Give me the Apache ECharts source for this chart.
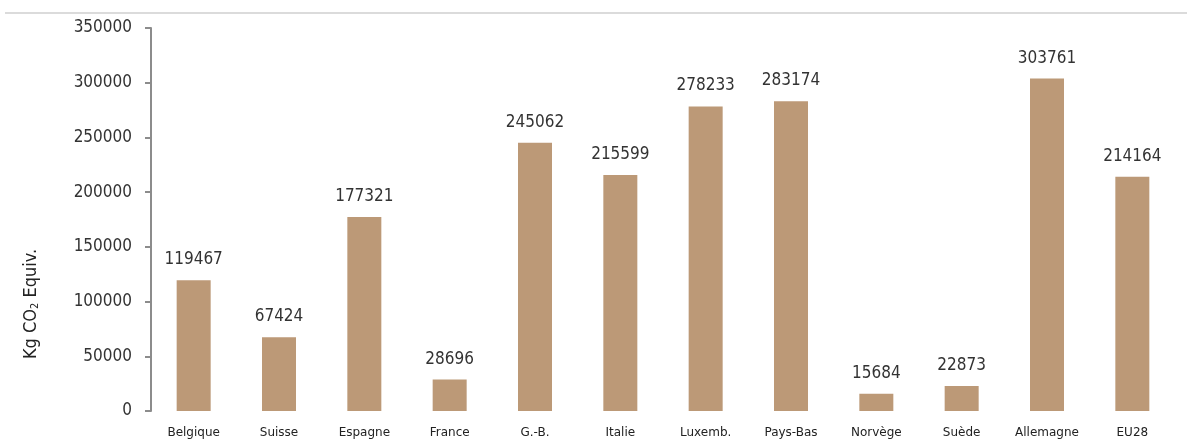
<!DOCTYPE html>
<html><head><meta charset="utf-8">
<script src="https://cdn.jsdelivr.net/npm/echarts@6/dist/echarts.min.js"></script>
<style>html,body{margin:0;padding:0;background:#fff}#c{width:1187px;height:441px}</style>
</head><body><div id="c"></div>
<script>
const categories = ['Belgique','Suisse','Espagne','France','G.-B.','Italie','Luxemb.','Pays-Bas','Norvège','Suède','Allemagne','EU28'];
const values = [119467,67424,177321,28696,245062,215599,278233,283174,15684,22873,303761,214164];
const yTicks = [0,50000,100000,150000,200000,250000,300000,350000];
const font = '"DejaVu Sans Condensed","DejaVu Sans",sans-serif';
const font2 = '"DejaVu Sans",sans-serif';
const chart = echarts.init(document.getElementById('c'));
chart.setOption({
  animation:false,
  grid:{left:151,right:12,top:28,bottom:30,containLabel:false},
  xAxis:{type:'category',data:categories,
    axisLine:{show:false},axisTick:{show:false},
    axisLabel:{color:'#222',fontFamily:font2,fontSize:12,margin:16}},
  yAxis:{type:'value',min:yTicks[0],max:yTicks[yTicks.length-1],interval:50000,
    axisLine:{show:true,lineStyle:{color:'#8c8c8c',width:2}},
    axisTick:{show:true,length:6,lineStyle:{color:'#8c8c8c',width:2}},
    splitLine:{show:false},
    axisLabel:{color:'#333',fontFamily:font,fontSize:17,margin:19,formatter:v=>String(v)}},
  series:[{type:'bar',data:values,barWidth:34,
    itemStyle:{color:'#BC9977'},
    label:{show:true,position:'top',distance:12,color:'#333',fontFamily:font,fontSize:17}}],
  graphic:[
    {type:'line',shape:{x1:5,y1:13,x2:1187,y2:13},style:{stroke:'#cfcfcf',lineWidth:1.5}},
    {type:'text',x:31,y:304,rotation:Math.PI/2,
      style:{text:'{a|Kg CO}{s|2}{a| Equiv.}',align:'center',verticalAlign:'middle',
        rich:{a:{fontFamily:font,fontSize:18,fill:'#222'},s:{fontFamily:font,fontSize:11,fill:'#222',padding:[9,0,0,0]}}}}
  ]
});
</script></body></html>
